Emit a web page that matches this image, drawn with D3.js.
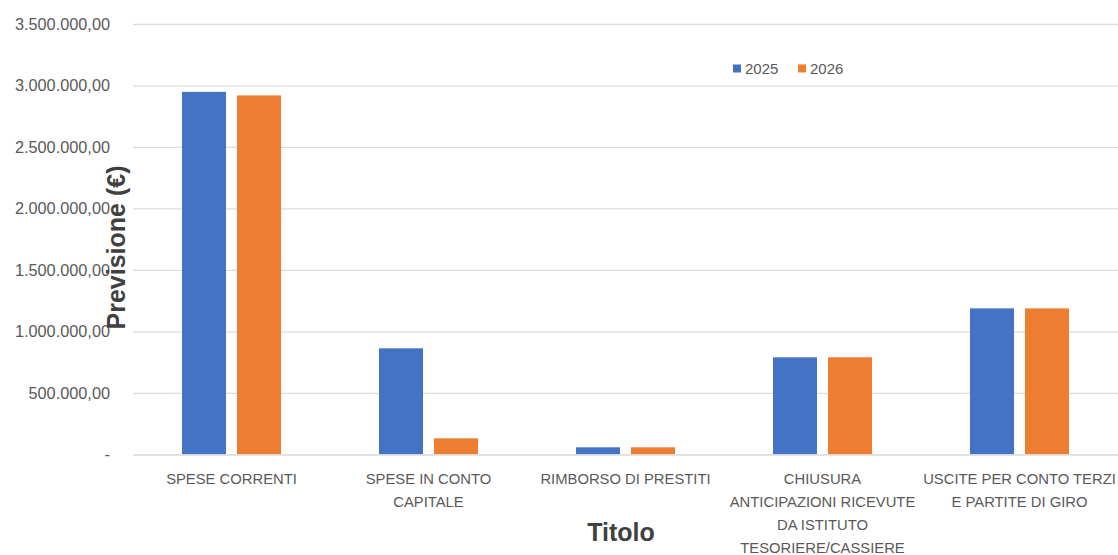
<!DOCTYPE html>
<html>
<head>
<meta charset="utf-8">
<script src="https://cdn.jsdelivr.net/npm/d3@7"></script>
<style>
  html, body { margin: 0; padding: 0; background: #ffffff; }
  svg { display: block; font-family: "Liberation Sans", Arial, sans-serif; }
</style>
</head>
<body>
<svg id="chart" width="1118" height="555"></svg>
<script>
// Budget chapters ("Titolo"), line breaks mark how each label wraps
const categories = [
  "SPESE CORRENTI",
  "SPESE IN CONTO\nCAPITALE",
  "RIMBORSO DI PRESTITI",
  "CHIUSURA\nANTICIPAZIONI RICEVUTE\nDA ISTITUTO\nTESORIERE/CASSIERE",
  "USCITE PER CONTO TERZI\nE PARTITE DI GIRO"
];
const seriesNames = ["2025", "2026"];
const values2025 = [2948000, 862000, 57000, 789000, 1187000];
const values2026 = [2919000, 130000, 57000, 789000, 1187000];
const yTicks = [0, 500000, 1000000, 1500000, 2000000, 2500000, 3000000, 3500000];
const seriesColors = ["#4472C4", "#ED7D31"];

const seriesValues = [values2025, values2026];
const rows = categories.map((c, i) => ({
  cat: c,
  vals: seriesNames.map((s, j) => ({ key: s, value: seriesValues[j][i] }))
}));

const svg = d3.select("#chart");
const plot = { left: 133, right: 1118, top: 24, bottom: 454.3 };

const x0 = d3.scaleBand().domain(categories).range([plot.left, plot.right]).padding(0);
const groupWidth = 99;
const x1 = d3.scaleBand().domain(seriesNames).range([0, groupWidth]).paddingInner(0.2);
const y = d3.scaleLinear().domain([0, 3500000]).range([plot.bottom, plot.top]);
const color = d3.scaleOrdinal().domain(seriesNames).range(seriesColors);

// Italian number format with two decimals; zero shown as a dash
const itLocale = d3.formatLocale({ decimal: ",", thousands: ".", grouping: [3], currency: ["€", ""] });
const fmt = itLocale.format(",.2f");
const tickFmt = v => v === 0 ? "-" : fmt(v);

// Horizontal gridlines and y tick labels
const yAxis = d3.axisLeft(y).tickValues(yTicks).tickSize(-(plot.right - plot.left)).tickFormat(tickFmt);
const gy = svg.append("g").attr("transform", `translate(${plot.left},0)`).call(yAxis);
gy.select(".domain").remove();
gy.selectAll(".tick line").attr("stroke", "#dcdcdc").attr("stroke-width", 1.3);
gy.selectAll(".tick text")
  .attr("x", -23)
  .attr("fill", "#595959")
  .style("font-size", "16.3px");

// Bars
const groups = svg.append("g").selectAll("g")
  .data(rows).join("g")
  .attr("transform", d => `translate(${x0(d.cat) + (x0.bandwidth() - groupWidth) / 2},0)`);
groups.selectAll("rect")
  .data(d => d.vals).join("rect")
  .attr("x", d => x1(d.key))
  .attr("width", x1.bandwidth())
  .attr("y", d => y(d.value))
  .attr("height", d => y(0) - y(d.value))
  .attr("fill", d => color(d.key));

// Category axis baseline
const xAxis = d3.axisBottom(x0).tickSize(0).tickFormat("");
const gx = svg.append("g").attr("transform", `translate(0,${plot.bottom})`).call(xAxis);
gx.select(".domain").attr("stroke", "#dcdcdc").attr("stroke-width", 1.3);

// Category labels (multi-line)
const labels = svg.append("g").selectAll("text")
  .data(categories).join("text")
  .attr("text-anchor", "middle")
  .attr("fill", "#595959")
  .style("font-size", "14.8px")
  .attr("x", d => x0(d) + x0.bandwidth() / 2)
  .attr("y", 484);
labels.each(function (d) {
  const t = d3.select(this);
  d.split("\n").forEach((line, i) => {
    t.append("tspan")
      .attr("x", x0(d) + x0.bandwidth() / 2)
      .attr("dy", i === 0 ? 0 : 23)
      .text(line);
  });
});

// Axis titles
svg.append("text")
  .attr("transform", "translate(125,247.5) rotate(-90)")
  .attr("text-anchor", "middle")
  .attr("fill", "#404040")
  .style("font-size", "25px")
  .style("font-weight", "bold")
  .text("Previsione (€)");

svg.append("text")
  .attr("x", 621)
  .attr("y", 541)
  .attr("text-anchor", "middle")
  .attr("fill", "#404040")
  .style("font-size", "25px")
  .style("font-weight", "bold")
  .text("Titolo");

// Legend
const legendX = [733, 798];
const legend = svg.append("g").selectAll("g")
  .data(seriesNames).join("g")
  .attr("transform", (d, i) => `translate(${legendX[i]},64.5)`);
legend.append("rect")
  .attr("width", 8).attr("height", 8)
  .attr("fill", d => color(d));
legend.append("text")
  .attr("x", 12).attr("y", 9.5)
  .attr("fill", "#595959")
  .style("font-size", "15px")
  .text(d => d);
</script>
</body>
</html>
